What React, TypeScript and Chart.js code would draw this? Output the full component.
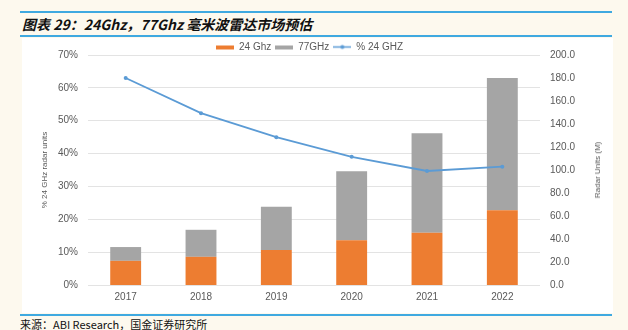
import React, { useEffect, useRef } from "react";
import { Chart, registerables } from "chart.js";

Chart.register(...registerables);

const categories = ["2017", "2018", "2019", "2020", "2021", "2022"];
const units24 = [21, 24.5, 30.5, 39, 45.5, 65];
const units77 = [12, 23.5, 37.5, 60, 86.5, 115];
const pct24 = [63, 52.3, 45, 39, 34.7, 36];
const leftTicks = [0, 10, 20, 30, 40, 50, 60, 70];
const rightTicks = [0, 20, 40, 60, 80, 100, 120, 140, 160, 180, 200];

const ORANGE = "#ed7d31";
const GRAY = "#a5a5a5";
const BLUE = "#5b9bd5";
const TXT = "#595959";
const FONT = "'Liberation Sans', Arial, sans-serif";

function makeIcon(kind: "rect" | "line", color: string): HTMLCanvasElement {
  const c = document.createElement("canvas");
  c.width = 18;
  c.height = 7;
  const ctx = c.getContext("2d")!;
  if (kind === "rect") {
    ctx.fillStyle = color;
    ctx.fillRect(0, 2, 18, 4);
  } else {
    ctx.strokeStyle = color;
    ctx.lineWidth = 1.5;
    ctx.beginPath();
    ctx.moveTo(0, 3.5);
    ctx.lineTo(18, 3.5);
    ctx.stroke();
    ctx.fillStyle = color;
    ctx.beginPath();
    ctx.arc(9, 3.5, 2, 0, Math.PI * 2);
    ctx.fill();
  }
  return c;
}

const tightLegend = {
  id: "tightLegend",
  beforeInit(chart: any) {
    const lg = chart.legend;
    if (!lg) return;
    const orig = lg.fit.bind(lg);
    lg.fit = function () {
      orig();
      this.height = Math.max(0, this.height - 7);
    };
  },
};

export default function App() {
  const ref = useRef<HTMLCanvasElement | null>(null);
  useEffect(() => {
    document.body.style.margin = "0";
    const icons = [makeIcon("rect", ORANGE), makeIcon("rect", GRAY), makeIcon("line", BLUE)];
    const tickFont = { family: FONT, size: 10 };
    const chart = new Chart(ref.current!, {
      type: "bar",
      plugins: [tightLegend],
      data: {
        labels: categories,
        datasets: [
          {
            type: "line",
            label: "% 24 GHZ",
            data: pct24,
            yAxisID: "y",
            borderColor: BLUE,
            backgroundColor: BLUE,
            borderWidth: 1.8,
            pointRadius: 2,
            pointBackgroundColor: BLUE,
            pointBorderWidth: 0,
            tension: 0,
            order: 0,
          } as any,
          {
            label: "24 Ghz",
            data: units24,
            yAxisID: "y1",
            backgroundColor: ORANGE,
            barPercentage: 0.82,
            categoryPercentage: 0.5,
            order: 1,
          },
          {
            label: "77GHz",
            data: units77,
            yAxisID: "y1",
            backgroundColor: GRAY,
            barPercentage: 0.82,
            categoryPercentage: 0.5,
            order: 1,
          },
        ],
      },
      options: {
        animation: false,
        responsive: false,
        maintainAspectRatio: false,
        layout: { padding: { top: 0, bottom: 0, left: 0, right: 16 } },
        plugins: {
          tooltip: { enabled: false },
          legend: {
            position: "top",
            labels: {
              usePointStyle: true,
              pointStyleWidth: 18,
              boxHeight: 7,
              padding: 4,
              color: TXT,
              font: { family: FONT, size: 10 },
              generateLabels: (ch: any) => {
                const order = [1, 2, 0];
                return order.map((di, k) => ({
                  text: ch.data.datasets[di].label,
                  datasetIndex: di,
                  pointStyle: icons[k],
                  fillStyle: "transparent",
                  strokeStyle: "transparent",
                  lineWidth: 0,
                  hidden: false,
                  fontColor: TXT,
                }));
              },
            },
          },
        },
        scales: {
          x: {
            stacked: true,
            grid: { display: false, drawTicks: false },
            border: { display: false },
            ticks: { color: TXT, font: tickFont, padding: 6 },
            afterFit: (s: any) => {
              s.height = 28;
            },
          },
          y: {
            position: "left",
            min: 0,
            max: 70,
            afterBuildTicks: (s: any) => {
              s.ticks = leftTicks.map((v) => ({ value: v }));
            },
            ticks: {
              color: TXT,
              font: tickFont,
              padding: 10,
              callback: (v: any) => v + "%",
            },
            grid: { color: "#e3e3e3", drawTicks: false },
            border: { display: false },
            title: {
              display: true,
              text: "% 24 GHz radar units",
              color: TXT,
              font: { family: FONT, size: 8 },
              padding: { top: 18, bottom: 0 },
            },
            afterFit: (s: any) => {
              s.width = 66;
            },
          },
          y1: {
            position: "right",
            stacked: true,
            min: 0,
            max: 200,
            afterBuildTicks: (s: any) => {
              s.ticks = rightTicks.map((v) => ({ value: v }));
            },
            ticks: {
              color: TXT,
              font: tickFont,
              padding: 10,
              callback: (v: any) => Number(v).toFixed(1),
            },
            grid: { display: false, drawTicks: false },
            border: { display: false },
            afterFit: (s: any) => {
              s.width = 57;
            },
          },
        },
      },
    });
    return () => chart.destroy();
  }, []);

  return (
    <div
      style={{
        position: "absolute",
        left: 0,
        top: 0,
        width: 628,
        height: 330,
        background: "#fdf9ee",
        overflow: "hidden",
      }}
    >
      <div style={{ position: "absolute", left: 20, top: 11, width: 592, height: 2, background: "#3fa9e0" }} />
      <div
        style={{
          position: "absolute",
          left: 22,
          top: 14,
          fontFamily: "'Noto Sans CJK SC', sans-serif",
          fontStyle: "italic",
          fontWeight: 700,
          fontSize: 14,
          lineHeight: "20px",
          color: "#111",
          whiteSpace: "nowrap",
        }}
      >
        图表 29：24Ghz，77Ghz 毫米波雷达市场预估
      </div>
      <div style={{ position: "absolute", left: 20, top: 35, width: 592, height: 2, background: "#3fa9e0" }} />
      <div style={{ position: "absolute", left: 22, top: 38, width: 591, height: 275, background: "#ffffff" }}>
        <canvas ref={ref} width={591} height={275} style={{ display: "block" }} />
        <div
          style={{
            position: "absolute",
            left: 576,
            top: 132,
            width: 0,
            height: 0,
          }}
        >
          <div
            style={{
              position: "absolute",
              left: 0,
              top: 0,
              transform: "translate(-50%, -50%) rotate(-90deg)",
              fontFamily: FONT,
              fontSize: 8,
              lineHeight: "10px",
              color: TXT,
              whiteSpace: "nowrap",
            }}
          >
            Radar Units (M)
          </div>
        </div>
      </div>
      <div style={{ position: "absolute", left: 20, top: 314, width: 592, height: 2, background: "#3fa9e0" }} />
      <div
        style={{
          position: "absolute",
          left: 20,
          top: 317,
          fontFamily: "'Noto Sans CJK SC', sans-serif",
          fontSize: 11,
          lineHeight: "14px",
          color: "#111",
          whiteSpace: "nowrap",
        }}
      >
        来源：ABI Research，国金证券研究所
      </div>
    </div>
  );
}
